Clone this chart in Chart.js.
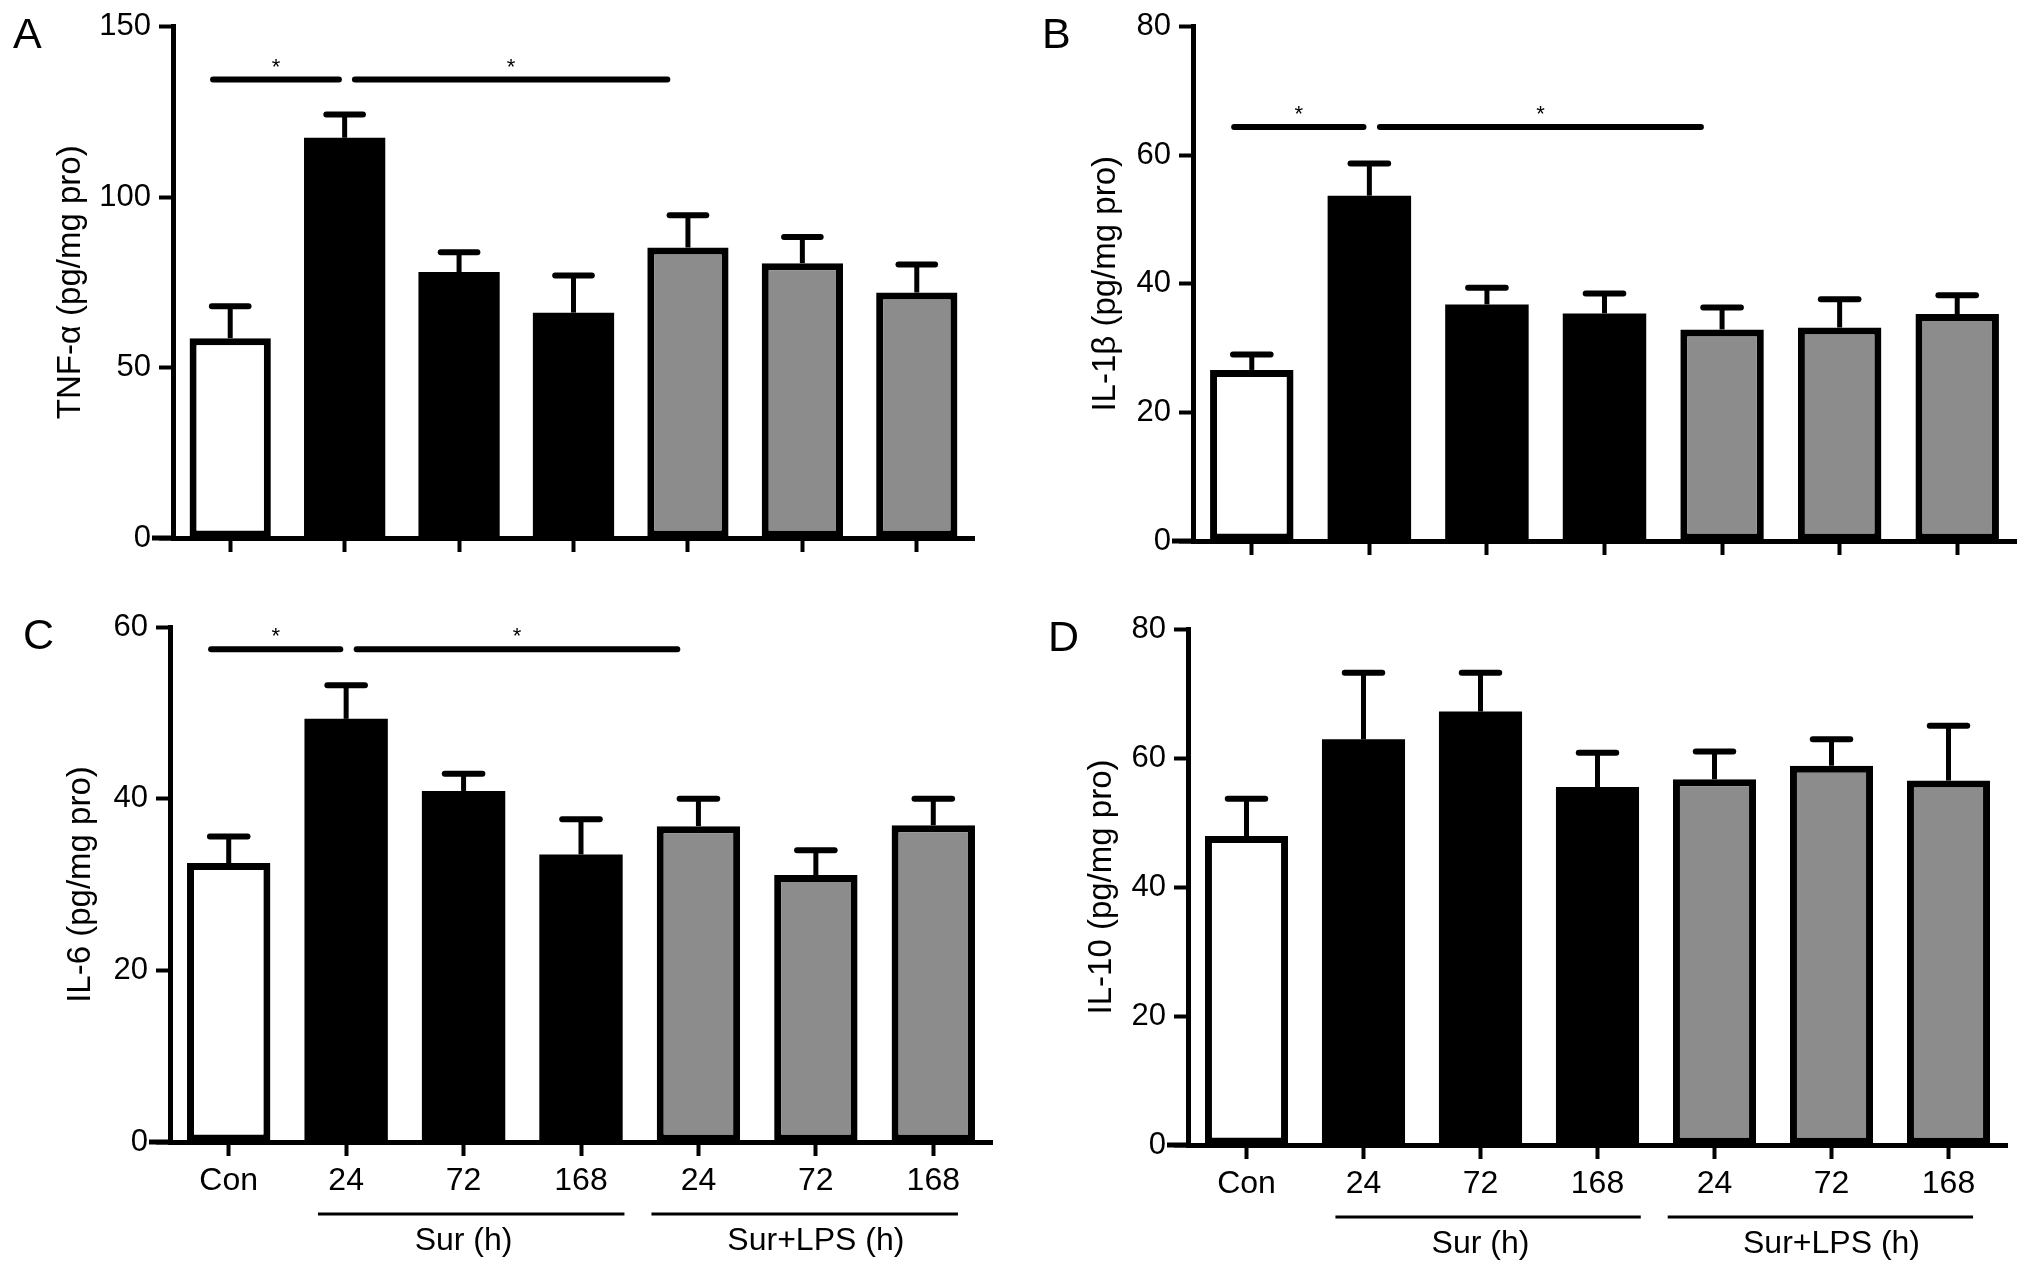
<!DOCTYPE html>
<html>
<head>
<meta charset="utf-8">
<title>Cytokine levels</title>
<script src="https://cdn.jsdelivr.net/npm/chart.js@4.4.1/dist/chart.umd.min.js"></script>
<style>
  html, body { margin: 0; padding: 0; background: #fff; }
  #wrap { position: relative; width: 2032px; height: 1270px; }
  #wrap canvas { position: absolute; }
</style>
</head>
<body>
<div id="wrap">
  <canvas id="panelA" width="1016" height="600" style="left:0;top:0"></canvas>
  <canvas id="panelB" width="1016" height="600" style="left:1016px;top:0"></canvas>
  <canvas id="panelC" width="1016" height="670" style="left:0;top:600px"></canvas>
  <canvas id="panelD" width="1016" height="670" style="left:1016px;top:600px"></canvas>
</div>
<script>
// categories (x axis)
var categories = ['Con', '24', '72', '168', '24', '72', '168'];
var groupNames = ['Sur (h)', 'Sur+LPS (h)'];
var groupRanges = [[1, 3], [4, 6]];

// means and SEM
var tnfMean = [58.6, 117.4, 78.0, 66.1, 85.2, 80.6, 72.0];
var tnfSem  = [9.4, 6.8, 5.8, 10.9, 9.5, 7.7, 8.2];
var il1Mean = [26.6, 53.7, 36.8, 35.4, 32.9, 33.2, 35.3];
var il1Sem  = [2.4, 5.0, 2.6, 3.1, 3.4, 4.4, 2.9];
var il6Mean = [32.5, 49.3, 40.9, 33.5, 36.8, 31.1, 36.9];
var il6Sem  = [3.1, 3.9, 2.0, 4.1, 3.2, 2.9, 3.1];
var il10Mean = [47.9, 62.9, 67.2, 55.5, 56.7, 58.8, 56.5];
var il10Sem  = [5.8, 10.3, 6.0, 5.3, 4.3, 4.1, 8.5];

// significance comparisons (category index pairs) and bar heights
var sigPairs = [[0, 1], [1, 4]];
var tnfSig = 134.5;
var il1Sig = 64.4;
var il6Sig = 57.4;

Chart.defaults.font.family = '"Liberation Sans", Arial, Helvetica, sans-serif';
Chart.defaults.color = '#000';

var barFill = ['#ffffff', '#000000', '#000000', '#000000', '#8c8c8c', '#8c8c8c', '#8c8c8c'];
// solid black bars need no outline (avoids a seam between fill and border)
var barBorder = [7, 0, 0, 0, 7, 7, 7];

// error bars, significance lines, group labels, panel letter
var extrasPlugin = {
  id: 'extras',
  afterDatasetsDraw: function(chart, args, o) {
    var ctx = chart.ctx, x = chart.scales.x, y = chart.scales.y;
    var cat = x.getPixelForValue(1) - x.getPixelForValue(0);
    var area = chart.chartArea;
    ctx.save();
    ctx.strokeStyle = '#000';
    ctx.fillStyle = '#000';

    // x axis runs a little past the y axis
    ctx.lineWidth = 5;
    ctx.beginPath();
    ctx.moveTo(area.left - 21, area.bottom);
    ctx.lineTo(area.left, area.bottom);
    ctx.stroke();

    o.mean.forEach(function(m, i) {
      var cx = x.getPixelForValue(i);
      var y0 = y.getPixelForValue(m);
      var y1 = y.getPixelForValue(m + o.sem[i]);
      ctx.lineCap = 'butt';
      ctx.lineWidth = 5;
      ctx.beginPath(); ctx.moveTo(cx, y0); ctx.lineTo(cx, y1); ctx.stroke();
      ctx.lineCap = 'round';
      ctx.lineWidth = 6;
      ctx.beginPath(); ctx.moveTo(cx - 0.16 * cat, y1); ctx.lineTo(cx + 0.16 * cat, y1); ctx.stroke();
    });

    if (o.sig != null) {
      var sy = y.getPixelForValue(o.sig);
      ctx.font = '22px "Liberation Sans", Arial, sans-serif';
      ctx.textAlign = 'center';
      ctx.textBaseline = 'middle';
      sigPairs.forEach(function(p) {
        var x1 = x.getPixelForValue(p[0]) + (p[0] === 0 ? -0.15 : 0.09) * cat;
        var x2 = x.getPixelForValue(p[1]) - (p[1] - p[0] > 1 ? 0.18 : 0.05) * cat;
        ctx.lineCap = 'round';
        ctx.lineWidth = 6;
        ctx.beginPath(); ctx.moveTo(x1, sy); ctx.lineTo(x2, sy); ctx.stroke();
        ctx.fillText('*', (x1 + x2) / 2, sy - 12);
      });
    }

    if (o.groups) {
      var ext = [[-0.24, 0.37], [-0.4, 0.21]];
      var gy = area.bottom + 72;
      ctx.font = '32px "Liberation Sans", Arial, sans-serif';
      ctx.textAlign = 'center';
      ctx.textBaseline = 'alphabetic';
      groupRanges.forEach(function(r, k) {
        var x1 = x.getPixelForValue(r[0]) + ext[k][0] * cat;
        var x2 = x.getPixelForValue(r[1]) + ext[k][1] * cat;
        ctx.lineCap = 'butt';
        ctx.lineWidth = 3;
        ctx.beginPath(); ctx.moveTo(x1, gy); ctx.lineTo(x2, gy); ctx.stroke();
        var mid = x.getPixelForValue((r[0] + r[1]) / 2);
        ctx.fillText(groupNames[k], mid, area.bottom + 108);
      });
    }

    ctx.font = '43px "Liberation Sans", Arial, sans-serif';
    ctx.textAlign = 'left';
    ctx.textBaseline = 'alphabetic';
    ctx.fillText(o.letter, o.letterX, o.letterY);
    ctx.restore();
  }
};

function makePanel(id, p) {
  var axisGrid = { display: true, drawOnChartArea: false, drawTicks: true, tickLength: 14, tickWidth: 4, tickColor: '#000', offset: false };
  var axisBorder = { display: true, color: '#000', width: 5 };
  return new Chart(document.getElementById(id), {
    type: 'bar',
    data: {
      labels: categories,
      datasets: [{
        data: p.mean,
        backgroundColor: barFill,
        borderColor: '#000',
        borderWidth: barBorder,
        borderSkipped: false,
        barPercentage: 0.71,
        categoryPercentage: 1
      }]
    },
    options: {
      responsive: false,
      animation: false,
      events: [],
      devicePixelRatio: 1,
      layout: { padding: { top: p.top, right: p.right, bottom: 0, left: 0 } },
      plugins: {
        legend: { display: false },
        tooltip: { enabled: false },
        extras: { mean: p.mean, sem: p.sem, sig: p.sig, groups: p.groups, letter: p.letter, letterX: p.letterX, letterY: p.letterY }
      },
      scales: {
        x: {
          offset: true,
          grid: axisGrid,
          border: axisBorder,
          ticks: { display: p.groups, color: '#000', font: { size: 32 }, padding: 6, maxRotation: 0, autoSkip: false },
          afterFit: function(s) { s.height = p.xHeight; }
        },
        y: {
          min: 0,
          max: p.max,
          grid: axisGrid,
          border: axisBorder,
          ticks: { stepSize: p.step, color: '#000', font: { size: 31 }, padding: 8 },
          title: { display: true, text: p.title, color: '#000', font: { size: 33 }, padding: { top: p.titlePad, bottom: 0 } },
          afterFit: function(s) { s.width = p.yWidth; }
        }
      }
    },
    plugins: [extrasPlugin]
  });
}

makePanel('panelA', { mean: tnfMean, sem: tnfSem, sig: tnfSig, groups: false, max: 150, step: 50,
  title: 'TNF-α (pg/mg pro)', top: 25, right: 42, yWidth: 173, xHeight: 62, titlePad: 51,
  letter: 'A', letterX: 13, letterY: 48 });
makePanel('panelB', { mean: il1Mean, sem: il1Sem, sig: il1Sig, groups: false, max: 80, step: 20,
  title: 'IL-1β (pg/mg pro)', top: 26, right: 16, yWidth: 177, xHeight: 59, titlePad: 70,
  letter: 'B', letterX: 26, letterY: 48 });
makePanel('panelC', { mean: il6Mean, sem: il6Sem, sig: il6Sig, groups: true, max: 60, step: 20,
  title: 'IL-6 (pg/mg pro)', top: 27, right: 24, yWidth: 170, xHeight: 128, titlePad: 61,
  letter: 'C', letterX: 23, letterY: 49 });
makePanel('panelD', { mean: il10Mean, sem: il10Sem, sig: null, groups: true, max: 80, step: 20,
  title: 'IL-10 (pg/mg pro)', top: 29, right: 25, yWidth: 172, xHeight: 125, titlePad: 66,
  letter: 'D', letterX: 32, letterY: 51 });
</script>
</body>
</html>
